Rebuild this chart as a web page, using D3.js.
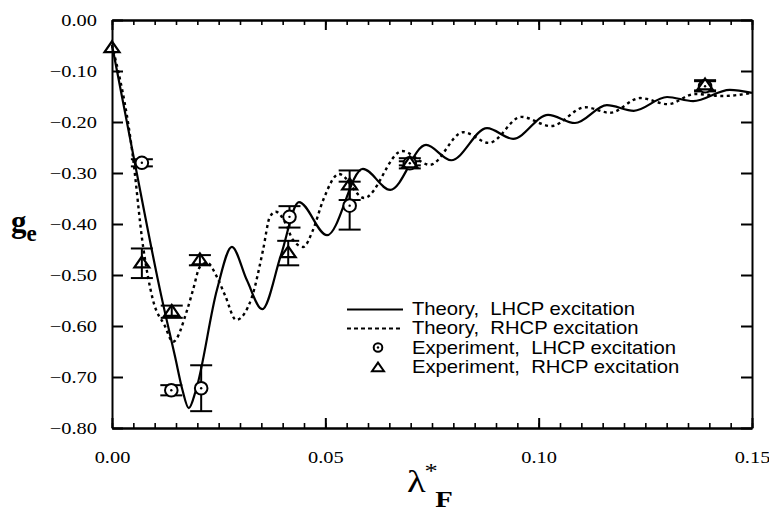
<!DOCTYPE html>
<html>
<head>
<meta charset="utf-8">
<script src="https://cdn.jsdelivr.net/npm/d3@7"></script>
<style>
  body { margin: 0; background: #fff; }
  svg { display: block; }
  .axis path, .axis line { stroke: #000; stroke-width: 2; }
  .axis.minor line { stroke-width: 1.6; }
  .legend text { white-space: pre; }
</style>
</head>
<body>
<svg id="chart" width="769" height="511"></svg>
<script>
(function() {
  'use strict';

  // Theory curves: [lambda*_F, g_e]
  var theoryLhcp = [
    [0.0000, -0.049], [0.0049, -0.261], [0.0115, -0.539], [0.0148, -0.661],
    [0.0165, -0.725], [0.0180, -0.761], [0.0197, -0.725], [0.0246, -0.529],
    [0.0281, -0.445], [0.0316, -0.510], [0.0352, -0.567], [0.0396, -0.461],
    [0.0438, -0.357], [0.0504, -0.422], [0.0588, -0.292], [0.0652, -0.333],
    [0.0736, -0.245], [0.0795, -0.275], [0.0879, -0.212], [0.0940, -0.233],
    [0.1022, -0.186], [0.1085, -0.202], [0.1160, -0.167], [0.1223, -0.178],
    [0.1301, -0.151], [0.1362, -0.159], [0.1448, -0.137], [0.1500, -0.143]
  ];
  var theoryRhcp = [
    [0.0000, -0.049], [0.0047, -0.255], [0.0073, -0.445], [0.0096, -0.549],
    [0.0124, -0.600], [0.0143, -0.631], [0.0176, -0.569], [0.0190, -0.529],
    [0.0206, -0.484], [0.0223, -0.476], [0.0246, -0.504], [0.0265, -0.540],
    [0.0291, -0.588], [0.0328, -0.543], [0.0354, -0.451], [0.0370, -0.386],
    [0.0384, -0.376], [0.0405, -0.396], [0.0424, -0.431], [0.0448, -0.445],
    [0.0471, -0.412], [0.0495, -0.353], [0.0532, -0.302], [0.0591, -0.349],
    [0.0680, -0.257], [0.0745, -0.284], [0.0823, -0.220], [0.0884, -0.241],
    [0.0959, -0.190], [0.1029, -0.208], [0.1109, -0.171], [0.1167, -0.182],
    [0.1238, -0.153], [0.1303, -0.165], [0.1366, -0.145], [0.1432, -0.149],
    [0.1500, -0.143]
  ];

  // Experiment points: [lambda*_F, g_e, error]
  var expLhcp = [
    [0.0070, -0.280, 0.007], [0.0139, -0.726, 0.010], [0.0209, -0.722, 0.045],
    [0.0416, -0.386, 0.021], [0.0557, -0.364, 0.047], [0.0698, -0.281, 0.010],
    [0.1390, -0.130, 0.010]
  ];
  var expRhcp = [
    [0.0000, -0.055, 0.000], [0.0070, -0.477, 0.029], [0.0140, -0.572, 0.012],
    [0.0206, -0.471, 0.010], [0.0413, -0.457, 0.024], [0.0557, -0.324, 0.029],
    [0.0698, -0.281, 0.004], [0.1390, -0.128, 0.010]
  ];

  var xMajorTicks = [0, 0.05, 0.10, 0.15];
  var yTicks = [0, -0.1, -0.2, -0.3, -0.4, -0.5, -0.6, -0.7, -0.8];
  var legendLabels = [
    'Theory,  LHCP excitation',
    'Theory,  RHCP excitation',
    'Experiment,  LHCP excitation',
    'Experiment,  RHCP excitation'
  ];

  var serif = '"Liberation Serif", "Times New Roman", serif';
  var sans = '"Liberation Sans", Arial, sans-serif';
  var left = 112, top = 20, right = 752, bottom = 428;
  var svg = d3.select('#chart');
  var fmt = d3.format('.2f');

  var x = d3.scaleLinear().domain([0, 0.15]).range([left, right]);
  var y = d3.scaleLinear().domain([-0.8, 0]).range([bottom, top]);

  // Frame and ticks, all pointing inward.
  svg.append('g').attr('class', 'axis minor')
    .attr('transform', 'translate(0,' + bottom + ')')
    .call(d3.axisBottom(x).tickValues(x.ticks(30)).tickSize(-5).tickSizeOuter(0).tickFormat(''));
  svg.append('g').attr('class', 'axis minor')
    .attr('transform', 'translate(0,' + top + ')')
    .call(d3.axisTop(x).tickValues(x.ticks(30)).tickSize(-5).tickSizeOuter(0).tickFormat(''));

  var xAxis = svg.append('g').attr('class', 'axis')
    .attr('transform', 'translate(0,' + bottom + ')')
    .call(d3.axisBottom(x).tickValues(xMajorTicks).tickSize(-10).tickSizeOuter(0).tickFormat(fmt));
  svg.append('g').attr('class', 'axis')
    .attr('transform', 'translate(0,' + top + ')')
    .call(d3.axisTop(x).tickValues(xMajorTicks).tickSize(-10).tickSizeOuter(0).tickFormat(''));

  var yAxis = svg.append('g').attr('class', 'axis')
    .attr('transform', 'translate(' + left + ',0)')
    .call(d3.axisLeft(y).tickValues(yTicks).tickSize(-11).tickSizeOuter(0).tickFormat(fmt));
  svg.append('g').attr('class', 'axis')
    .attr('transform', 'translate(' + right + ',0)')
    .call(d3.axisRight(y).tickValues(yTicks).tickSize(-11).tickSizeOuter(0).tickFormat(''));

  // The printed labels are a little wide, so stretch them sideways.
  svg.selectAll('.axis').attr('font-family', serif).attr('font-size', 17);
  xAxis.selectAll('.tick text')
    .attr('x', null).attr('y', null).attr('dy', null)
    .attr('transform', 'translate(0,' + (463 - bottom) + ') scale(1.2,1)');
  yAxis.selectAll('.tick text')
    .attr('x', null).attr('dy', '0.34em')
    .attr('transform', 'translate(-15,0) scale(1.2,1)');

  // Theory curves
  var line = d3.line()
    .x(function(d) { return x(d[0]); })
    .y(function(d) { return y(d[1]); })
    .curve(d3.curveMonotoneX);

  svg.append('path').datum(theoryLhcp)
    .attr('d', line)
    .attr('fill', 'none').attr('stroke', '#000').attr('stroke-width', 2.2);
  svg.append('path').datum(theoryRhcp)
    .attr('d', line)
    .attr('fill', 'none').attr('stroke', '#000').attr('stroke-width', 2.4)
    .attr('stroke-dasharray', '3,3.5');

  // Error bars
  var bars = svg.append('g').attr('stroke', '#000').attr('stroke-width', 2);
  expLhcp.concat(expRhcp).filter(function(d) { return d[2] > 0; }).forEach(function(d) {
    var cx = x(d[0]);
    bars.append('line').attr('x1', cx).attr('x2', cx)
      .attr('y1', y(d[1] + d[2])).attr('y2', y(d[1] - d[2]));
    [d[1] + d[2], d[1] - d[2]].forEach(function(v) {
      bars.append('line').attr('x1', cx - 11).attr('x2', cx + 11)
        .attr('y1', y(v)).attr('y2', y(v));
    });
  });

  function triangle(s) {
    return 'M0,' + (-s * 0.9) + 'L' + s + ',' + (s * 0.55) + 'L' + (-s) + ',' + (s * 0.55) + 'Z';
  }

  function drawCircle(g, cx, cy, r) {
    g.append('circle').attr('cx', cx).attr('cy', cy).attr('r', r)
      .attr('fill', '#fff').attr('stroke', '#000').attr('stroke-width', 2);
    g.append('circle').attr('cx', cx).attr('cy', cy).attr('r', 1.2).attr('fill', '#000');
  }

  var marks = svg.append('g');
  expLhcp.forEach(function(d) {
    drawCircle(marks, x(d[0]), y(d[1]), 6.3);
  });
  expRhcp.forEach(function(d) {
    marks.append('path')
      .attr('d', triangle(7.5))
      .attr('transform', 'translate(' + x(d[0]) + ',' + y(d[1]) + ')')
      .attr('fill', 'none').attr('stroke', '#000').attr('stroke-width', 2.2);
  });

  // Legend
  var legend = svg.append('g').attr('class', 'legend')
    .attr('font-family', sans).attr('font-size', 18.5);
  var rowY = [314.5, 334, 353.5, 373];
  legend.append('line').attr('x1', 347).attr('x2', 403).attr('y1', 309.5).attr('y2', 309.5)
    .attr('stroke', '#000').attr('stroke-width', 2);
  legend.append('line').attr('x1', 347).attr('x2', 403).attr('y1', 328.5).attr('y2', 328.5)
    .attr('stroke', '#000').attr('stroke-width', 2).attr('stroke-dasharray', '4,3');
  drawCircle(legend, 378, 347.5, 4.3);
  legend.append('path').attr('d', triangle(6))
    .attr('transform', 'translate(378,368)')
    .attr('fill', 'none').attr('stroke', '#000').attr('stroke-width', 2);
  legend.selectAll('text').data(legendLabels).enter().append('text')
    .attr('xml:space', 'preserve')
    .attr('transform', function(d, i) { return 'translate(412,' + rowY[i] + ') scale(1.095,1)'; })
    .text(function(d) { return d; });

  // Axis titles
  var yt = svg.append('text')
    .attr('font-family', serif).attr('font-weight', 'bold')
    .attr('transform', 'translate(11,232)');
  yt.append('tspan').attr('font-size', 31).text('g');
  yt.append('tspan').attr('font-size', 23).attr('dy', 9).text('e');

  var xt = svg.append('text')
    .attr('font-family', serif)
    .attr('transform', 'translate(407,492) scale(1.2,1)');
  xt.append('tspan').attr('font-size', 32).text('λ');
  xt.append('tspan').attr('font-size', 22).attr('dy', -14).attr('dx', -1).text('*');
  xt.append('tspan').attr('font-size', 24).attr('font-weight', 'bold')
    .attr('dy', 29).attr('dx', -2).text('F');
})();
</script>
</body>
</html>
